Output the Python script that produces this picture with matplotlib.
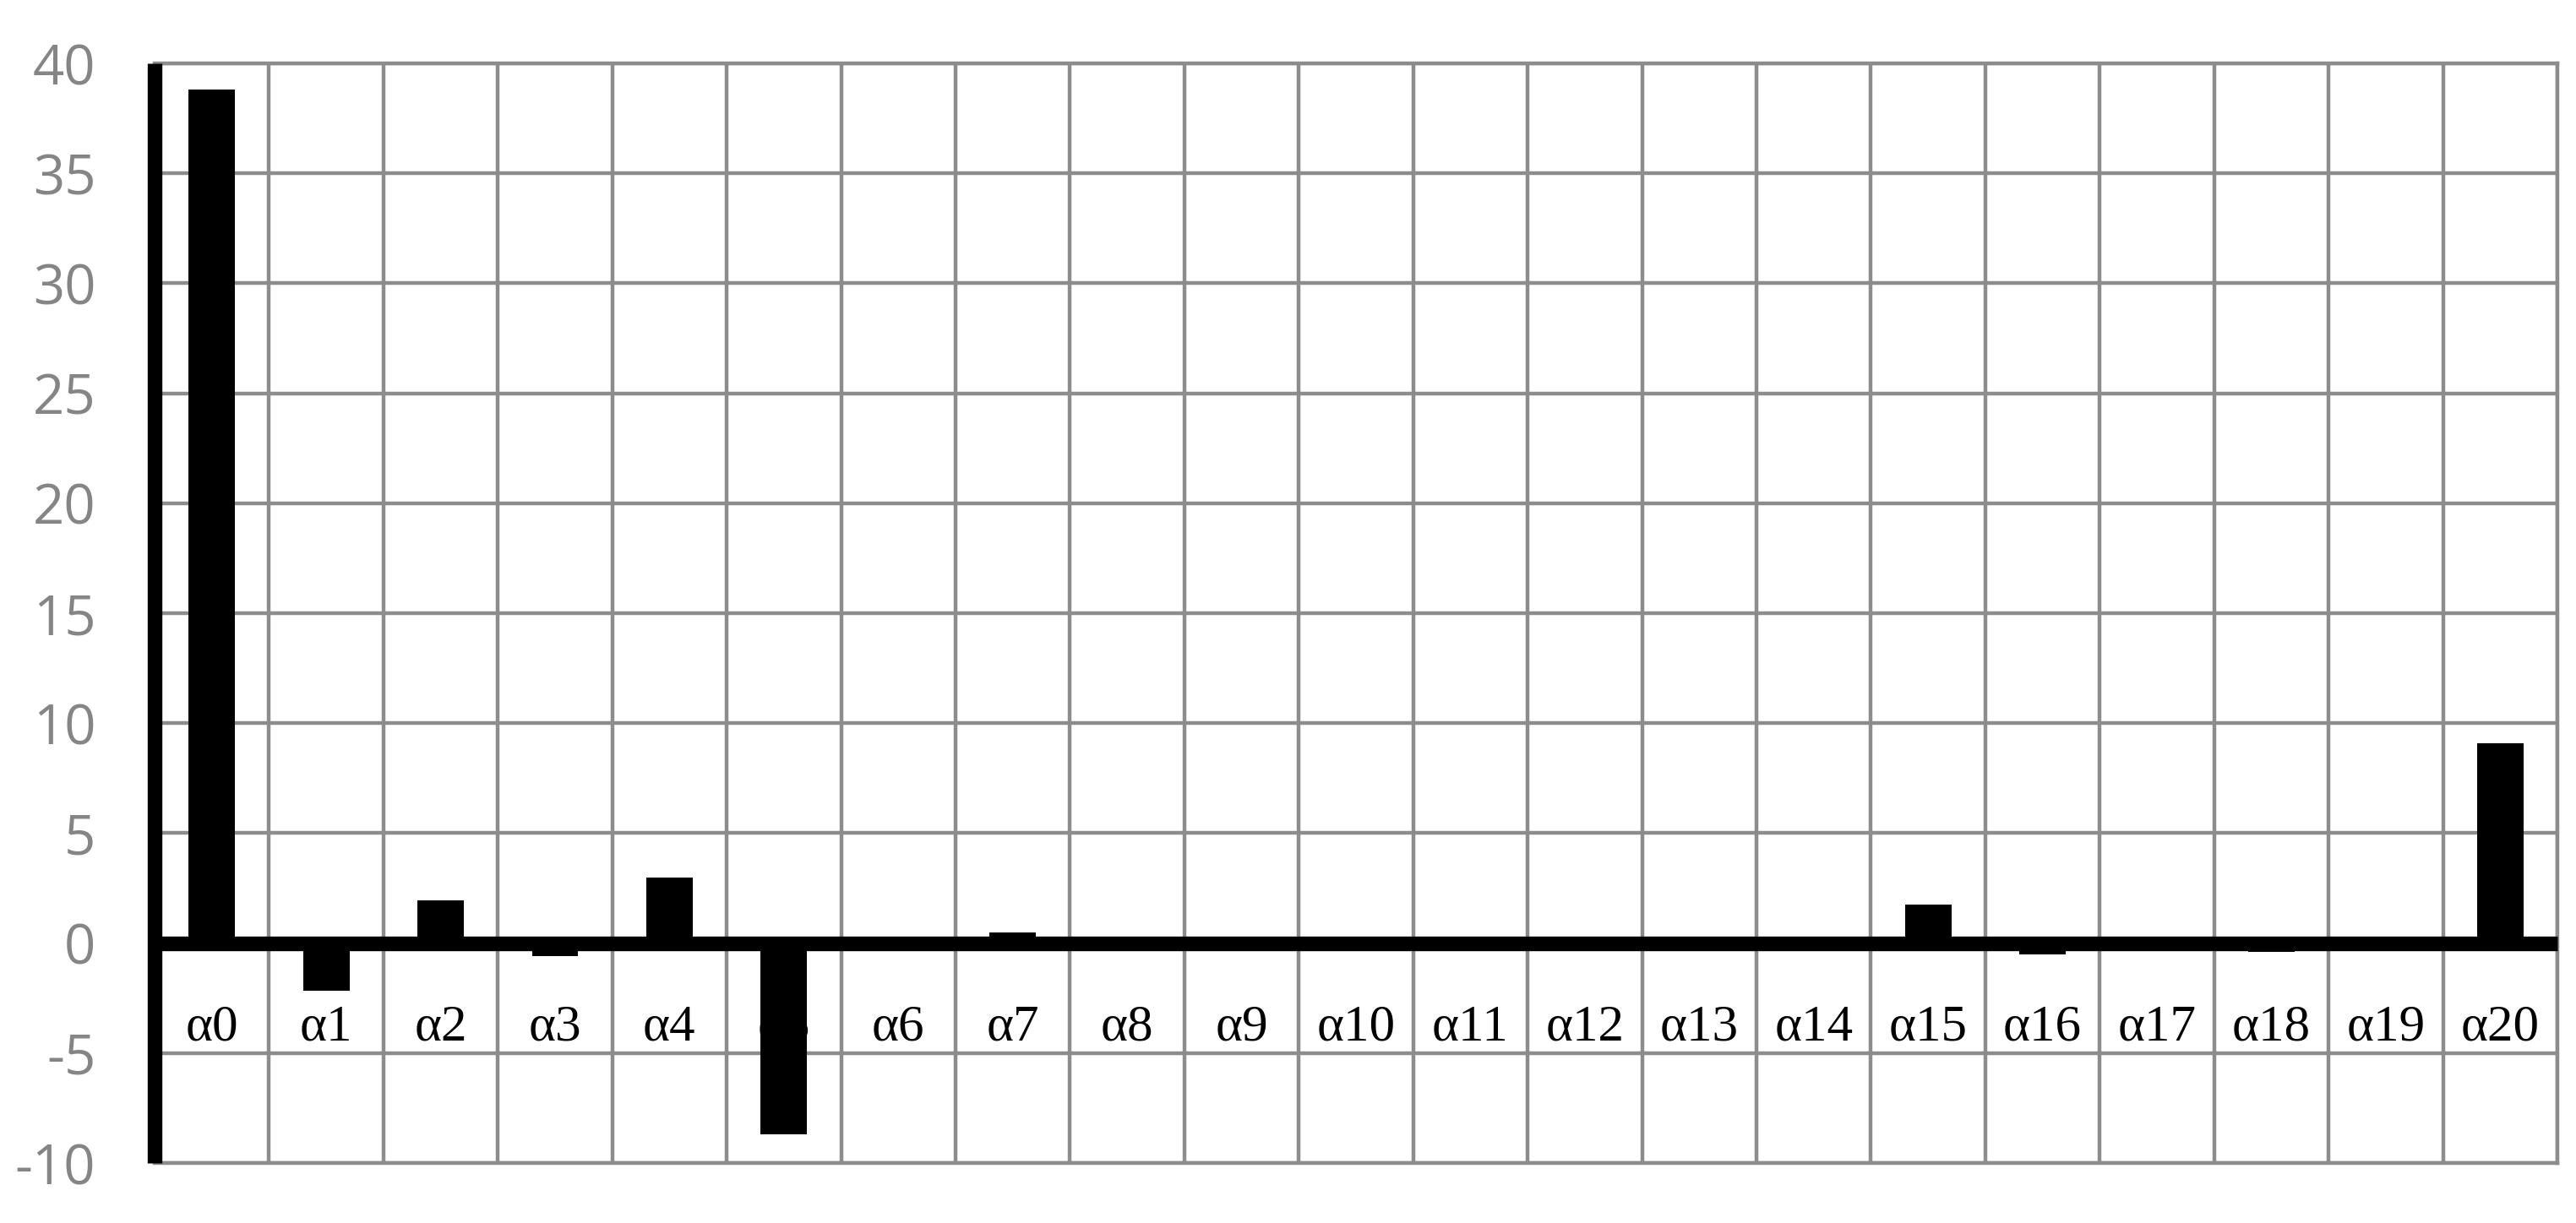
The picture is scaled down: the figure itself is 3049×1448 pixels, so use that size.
import numpy as np
import matplotlib
matplotlib.use("Agg")
import matplotlib.pyplot as plt
from matplotlib.font_manager import FontProperties

# coefficient values
labels = ["α" + str(i) for i in range(21)]
values = [38.8, -2.15, 1.95, -0.6, 3.0, -8.7, 0.0, 0.5, 0.0, 0.0, 0.0,
          0.0, 0.0, 0.0, 0.0, 1.75, -0.5, 0.0, -0.4, 0.0, 9.1]
yticks = [-10, -5, 0, 5, 10, 15, 20, 25, 30, 35, 40]

grid_gray = "#8c8c8c"
label_gray = "#858585"

fig = plt.figure(figsize=(30.49, 14.48), dpi=100)
ax = fig.add_axes([0.0600, 0.049, 0.9328, 0.8992])

# spines first: moving a spine resets the axis ticks
ax.spines["top"].set_visible(False)
ax.spines["right"].set_visible(False)
ax.spines["bottom"].set_position(("data", 0))
ax.spines["bottom"].set_linewidth(12.5)
ax.spines["bottom"].set_zorder(4)
ax.spines["bottom"].set_capstyle("butt")
ax.spines["left"].set_linewidth(12.5)
ax.spines["left"].set_zorder(4)
ax.spines["left"].set_capstyle("butt")

x = np.arange(len(labels))
ax.bar(x, values, width=0.405, color="black", zorder=3)

ax.set_xlim(-0.5, len(labels) - 0.5)
ax.set_ylim(-10, 40)

ax.set_xticks(np.arange(-0.5, len(labels), 1.0), minor=True)
ax.set_xticks(x)
ax.set_yticks(yticks)
ax.tick_params(axis="y", length=0, pad=50, labelcolor=label_gray)
ax.tick_params(axis="x", which="both", length=0, pad=52)

yfont = FontProperties(family="Open Sans", size=47)
xfont = FontProperties(family="Liberation Serif", size=44)
ax.set_yticklabels([str(v) for v in yticks], fontproperties=yfont)
ax.set_xticklabels(labels, fontproperties=xfont)

ax.grid(True, axis="y", color=grid_gray, linewidth=3.2, zorder=0)
ax.grid(True, axis="x", which="minor", color=grid_gray, linewidth=3.2, zorder=0)
ax.grid(False, axis="x", which="major")
ax.axhline(-10, color=grid_gray, linewidth=3.2, clip_on=False, zorder=1)
ax.axhline(40, color=grid_gray, linewidth=3.2, clip_on=False, zorder=1)
ax.axvline(len(labels) - 0.5, color=grid_gray, linewidth=3.2, clip_on=False, zorder=1)

fig.savefig("out.png", dpi=100)
